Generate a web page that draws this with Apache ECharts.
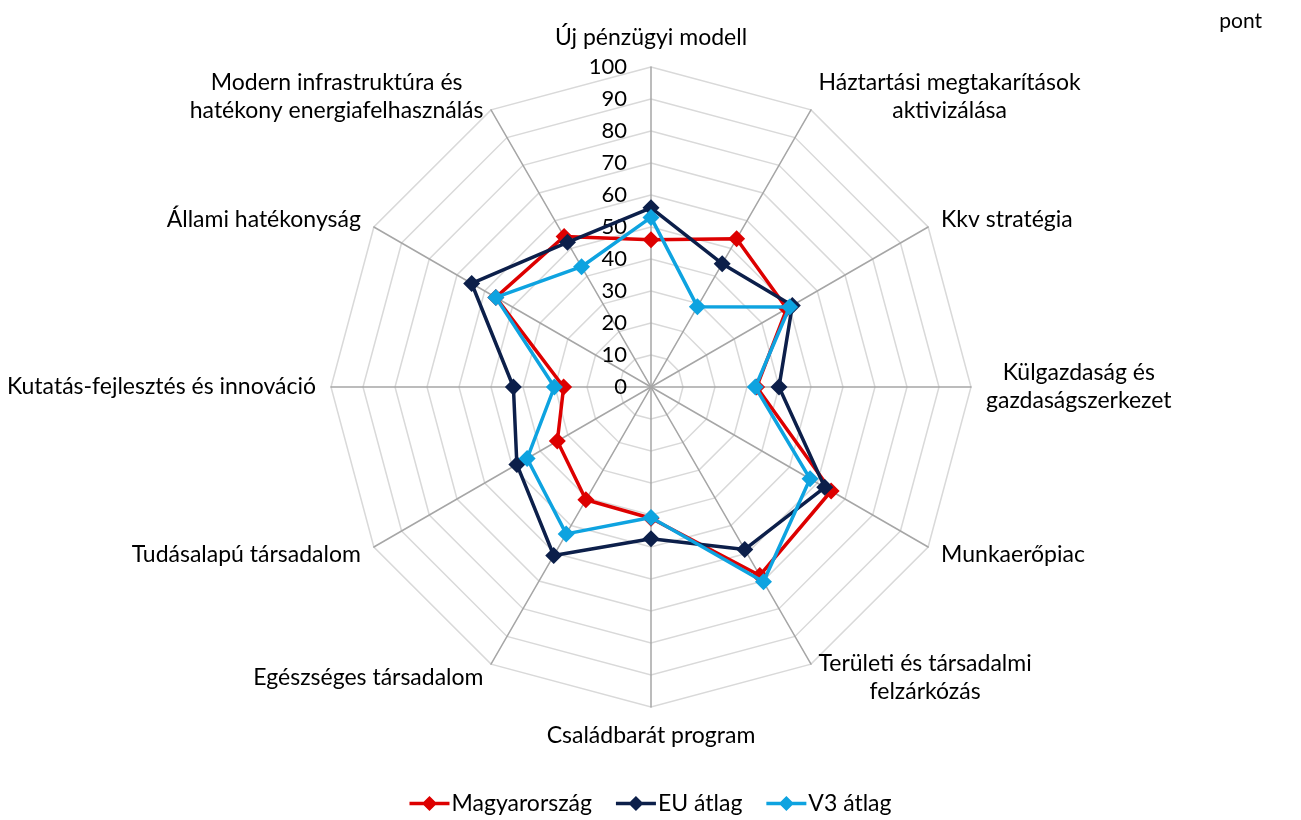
<!DOCTYPE html>
<html>
<head>
<meta charset="utf-8">
<script src="https://cdn.jsdelivr.net/npm/echarts@6/dist/echarts.min.js"></script>
<style>
html,body{margin:0;padding:0;background:#fff;}
#chart{width:1301px;height:820px;}
</style>
</head>
<body>
<div id="chart"></div>
<script>
// Categories in clockwise order starting from the top
const categories = [
  'Új pénzügyi modell',
  'Háztartási megtakarítások\naktivizálása',
  'Kkv stratégia',
  'Külgazdaság és\ngazdaságszerkezet',
  'Munkaerőpiac',
  'Területi és társadalmi\nfelzárkózás',
  'Családbarát program',
  'Egészséges társadalom',
  'Tudásalapú társadalom',
  'Kutatás-fejlesztés és innováció',
  'Állami hatékonyság',
  'Modern infrastruktúra és\nhatékony energiafelhasználás'
];
const seriesNames = ['Magyarország', 'EU átlag', 'V3 átlag'];
const magyarorszag = [46, 53.5, 49, 33, 65, 68, 41, 40.7, 33.8, 27.3, 56, 54.3];
const euAtlag      = [56, 44.5, 51, 40, 62.7, 58.6, 47.4, 60.8, 48.4, 43, 64.7, 52.2];
const v3Atlag      = [53, 29, 50, 32.6, 57.4, 70.3, 40.8, 53, 44.7, 30.2, 56, 43.4];
const axisMax = 100;
const unitLabel = 'pont';

const colors = ['#DD0000', '#0C1F4A', '#0EA3E0'];
const FONT = 'Lato';
const legendIcon = 'path://M0,6.2 H14.2 L20,0.4 L25.8,6.2 H40 V9.8 H25.8 L20,15.6 L14.2,9.8 H0 Z';

// ECharts radar runs counter-clockwise; reorder so the picture runs clockwise
const n = categories.length;
const order = [0].concat(Array.from({ length: n - 1 }, (_, k) => n - 1 - k));
const reorder = arr => order.map(i => arr[i]);

const indicator = reorder(categories).map((c, i) => {
  const o = { name: c, max: axisMax, min: 0 };
  if (i === 0) o.axisLabel = { show: true };
  return o;
});

const datasets = [magyarorszag, euAtlag, v3Atlag];

const chart = echarts.init(document.getElementById('chart'));
chart.setOption({
  animation: false,
  textStyle: { fontFamily: FONT },
  title: {
    text: unitLabel,
    right: 34, top: 6,
    textStyle: { fontFamily: FONT, fontSize: 21, fontWeight: 'normal', color: '#000' }
  },
  legend: {
    bottom: 0,
    left: 'center',
    itemWidth: 40, itemHeight: 16, itemGap: 24,
    data: seriesNames.map((nm, i) => ({ name: nm, icon: legendIcon, itemStyle: { color: colors[i] } })),
    textStyle: { fontFamily: FONT, fontSize: 23, color: '#000', padding: [0, 0, 0, -3] }
  },
  radar: {
    center: [651, 387],
    radius: 320,
    startAngle: 90,
    splitNumber: 10,
    shape: 'polygon',
    nameGap: 15,
    axisName: {
      color: '#000',
      fontFamily: FONT,
      fontSize: 23,
      lineHeight: 28,
      formatter: function (name) {
        return name.split('\n').map(s => '{c|' + s + '}').join('\n');
      },
      rich: { c: { align: 'center', fontFamily: FONT, fontSize: 23, lineHeight: 28, color: '#000' } }
    },
    axisLine: { lineStyle: { color: '#A6A6A6', width: 1.5 } },
    splitLine: { lineStyle: { color: '#D9D9D9', width: 1.5 } },
    splitArea: { show: false },
    axisTick: { show: false },
    axisLabel: {
      show: false,
      color: '#000',
      fontFamily: FONT,
      fontSize: 22,
      margin: 24,
      showMinLabel: true,
      showMaxLabel: true
    },
    indicator: indicator
  },
  series: datasets.map((d, i) => ({
    type: 'radar',
    name: seriesNames[i],
    z: 2 + i,
    symbol: 'diamond',
    symbolSize: 17,
    lineStyle: { color: colors[i], width: 3.5 },
    itemStyle: { color: colors[i] },
    data: [{ value: reorder(d), name: seriesNames[i] }]
  }))
});
</script>
</body>
</html>
